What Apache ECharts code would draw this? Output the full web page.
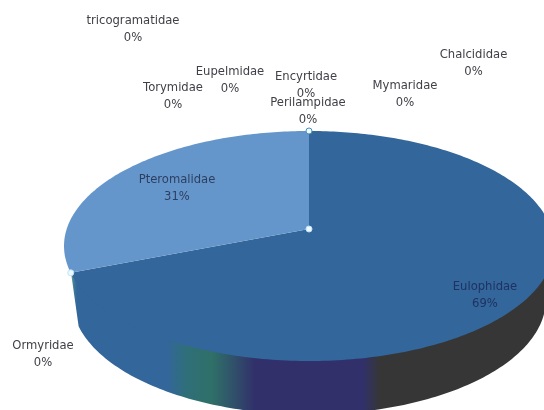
<!DOCTYPE html>
<html>
<head>
<meta charset="utf-8">
<style>html,body{margin:0;padding:0;background:#fff}#chart{width:544px;height:410px}</style>
<script src="https://cdn.jsdelivr.net/npm/echarts@6/dist/echarts.min.js"></script>
</head>
<body>
<div id="chart"></div>
<script>
// Slices run clockwise from twelve o'clock.
const families = ['Chalcididae', 'Mymaridae', 'Eulophidae', 'Ormyridae', 'Pteromalidae',
  'Torymidae', 'tricogramatidae', 'Eupelmidae', 'Encyrtidae', 'Perilampidae'];
const shares = [0, 0, 69, 0, 31, 0, 0, 0, 0, 0];

// Pie placement: the apex is where the slices meet on the tilted disc.
const apex = { x: 309, y: 229 };
const tilt = { a: 242.3, b: 112.5, p: 0.1478 };
// The lower rim of the wall sits lower and slightly narrower than the upper rim.
const wallDrop = 53.5;
const wallNarrowing = 0.967;
// The wall's upper edge tucks under the face so no seam shows along the rim.
const wallTuck = 2;
const walledFamilies = ['Eulophidae'];

const faceColors = { Eulophidae: '#33669a', Pteromalidae: '#6596cb' };
const labelColors = { Eulophidae: '#1f3263', Pteromalidae: '#2c3f60' };
const labelCentres = {
  Chalcididae: [473.5, 55], Mymaridae: [405, 86], Eulophidae: [485, 287],
  Ormyridae: [43, 346], Pteromalidae: [177, 180], Torymidae: [173, 88],
  tricogramatidae: [133, 21], Eupelmidae: [230, 72], Encyrtidae: [306, 77],
  Perilampidae: [308, 103]
};
const handleStrokes = ['#bfe3f5', '#bfe3f5', '#4a90b8'];

const total = shares.reduce((s, v) => s + v, 0);

// Perspective projection of a disc angle (radians, clockwise from the top).
function rim(angle) {
  const u = Math.sin(angle), v = Math.cos(angle);
  const w = 1 + tilt.p * v;
  return [apex.x + tilt.a * u / w, apex.y - tilt.b * v / w];
}
function arcPoints(from, to) {
  const n = Math.max(2, Math.ceil(Math.abs(to - from) * 60));
  const pts = [];
  for (let i = 0; i <= n; i++) pts.push(rim(from + (to - from) * i / n));
  return pts;
}

const ranges = [];
let acc = 0;
shares.forEach(v => {
  const from = acc / total * Math.PI * 2;
  acc += v;
  ranges.push([from, acc / total * Math.PI * 2]);
});

// The wall shows from the right-hand extreme of the rim onward.
const frontStart = Math.acos(-tilt.p);

const gradientFrom = 70, gradientTo = 554;
const wallFill = {
  type: 'linear', global: true, x: gradientFrom, y: 0, x2: gradientTo, y2: 0,
  colorStops: [
    [70, '#7fa8a8'], [74, '#3f7a96'], [77, '#33669a'], [167, '#33669a'], [187, '#2f6f78'],
    [212, '#2f7068'], [234, '#30506a'], [255, '#31306a'], [363, '#31306a'],
    [380, '#363636'], [554, '#363636']
  ].map(([x, color]) => ({ offset: (x - gradientFrom) / (gradientTo - gradientFrom), color }))
};

function renderSlice(params) {
  const i = params.dataIndex;
  const name = families[i];
  const [from, to] = ranges[i];
  const children = [];
  if (shares[i] > 0) {
    if (walledFamilies.includes(name)) {
      const upper = arcPoints(Math.max(from, frontStart), to);
      const top = upper.map(p => [p[0], p[1] - wallTuck]);
      const bottom = upper
        .map(p => [apex.x + (p[0] - apex.x) * wallNarrowing, p[1] + wallDrop])
        .reverse();
      children.push({
        type: 'polygon', shape: { points: top.concat(bottom) },
        style: { fill: wallFill }
      });
    }
    children.push({
      type: 'polygon',
      shape: { points: [[apex.x, apex.y]].concat(arcPoints(from, to)) },
      style: { fill: faceColors[name] }
    });
  }
  return { type: 'group', children };
}

const handleSlices = shares.map((v, i) => i).filter(i => shares[i] > 0);

// Handles sit above all faces: the apex and every slice boundary on the rim.
function renderHandle(params) {
  const i = params.dataIndex;
  const pos = i === 0 ? [apex.x, apex.y] : rim(ranges[handleSlices[i - 1]][1]);
  return {
    type: 'circle',
    shape: { cx: pos[0], cy: pos[1], r: 3 },
    style: { fill: '#eefaff', stroke: handleStrokes[i], lineWidth: 1 }
  };
}

function renderLabel(params) {
  const i = params.dataIndex;
  const name = families[i];
  const c = labelCentres[name];
  const pct = Math.round(shares[i] / total * 100) + '%';
  const style = {
    align: 'center', verticalAlign: 'middle',
    font: '11.6px "DejaVu Sans"',
    fill: labelColors[name] || '#404048'
  };
  return {
    type: 'group',
    children: [
      { type: 'text', style: Object.assign({ x: c[0], y: c[1], text: name }, style) },
      { type: 'text', style: Object.assign({ x: c[0], y: c[1] + 17, text: pct }, style) }
    ]
  };
}

const chart = echarts.init(document.getElementById('chart'), null, { renderer: 'canvas' });
chart.setOption({
  animation: false,
  backgroundColor: '#ffffff',
  series: [
    { type: 'custom', coordinateSystem: 'none', renderItem: renderSlice, data: shares, silent: true, z: 1 },
    { type: 'custom', coordinateSystem: 'none', renderItem: renderHandle, data: [0].concat(handleSlices), silent: true, z: 2 },
    { type: 'custom', coordinateSystem: 'none', renderItem: renderLabel, data: shares, silent: true, z: 3 }
  ]
});
</script>
</body>
</html>
